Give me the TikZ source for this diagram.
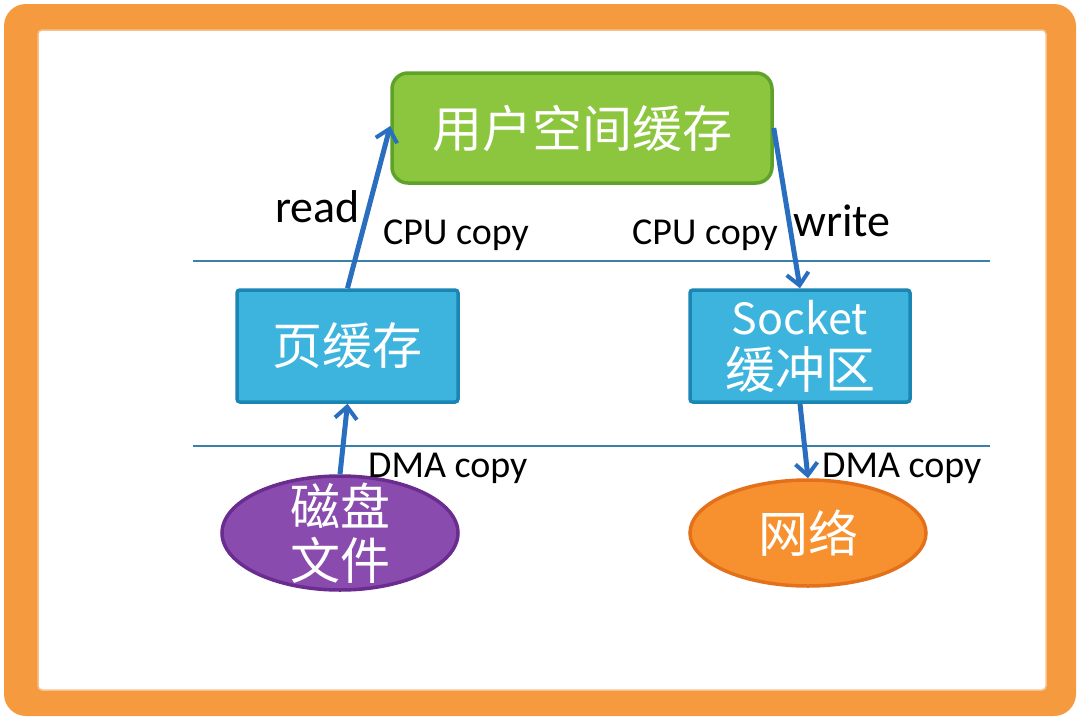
\documentclass[tikz,border=0pt]{standalone}
\usepackage{fontspec}
\setmainfont{Carlito}
\newfontfamily\cjk{Noto Sans CJK SC}
\usetikzlibrary{shapes.geometric,arrows.meta}
\definecolor{frameor}{HTML}{F59A3F}
\definecolor{gfill}{HTML}{8CC63E}
\definecolor{gline}{HTML}{5EA22A}
\definecolor{bfill}{HTML}{3DB4DD}
\definecolor{bline}{HTML}{1B86B4}
\definecolor{pfill}{HTML}{8A4BAE}
\definecolor{pline}{HTML}{6B2C8F}
\definecolor{ofill}{HTML}{F7912F}
\definecolor{oline}{HTML}{E3701A}
\definecolor{arr}{HTML}{2A6FBF}
\definecolor{sep}{HTML}{3A80A8}
\tikzset{
  box/.style={draw, line width=3.5pt, text=white, align=center, inner sep=0pt,
    font=\cjk\fontsize{50}{54}\selectfont},
  greenbox/.style={box, fill=gfill, draw=gline, rounded corners=16pt},
  bluebox/.style={box, fill=bfill, draw=bline, rounded corners=3pt},
  oval/.style={box, ellipse},
  flow/.style={draw=arr, line width=5pt, -{Straight Barb[length=12pt,width=22pt,line width=4pt]}},
  lbl/.style={anchor=base west, inner sep=0pt, text=black},
  big/.style={lbl, font=\fontsize{46}{50}\selectfont},
  small/.style={lbl, font=\fontsize{38}{42}\selectfont},
  sepline/.style={draw=sep, line width=2pt}
}
\begin{document}
\begin{tikzpicture}[x=1pt,y=-1pt]
\useasboundingbox (0,0) rectangle (1080,720);
\fill[white] (0,0) rectangle (1080,720);
% frame
\fill[frameor, rounded corners=22pt] (4,4) rectangle (1076,716);
\fill[white, rounded corners=4pt] (38,30) rectangle (1046,690);
\draw[frameor!60, line width=1.5pt, rounded corners=4pt] (38,30) rectangle (1046,690);
% separators
\draw[sepline] (193,261) -- (990,261);
\draw[sepline] (193,446) -- (990,446);
% nodes
\node[greenbox, minimum width=380pt, minimum height=110pt] (ucache) at (582,128) {用户空间缓存};
\node[bluebox, minimum width=221pt, minimum height=112pt] (page) at (347.5,346) {页缓存};
\node[bluebox, minimum width=220pt, minimum height=112pt] (socket) at (800,346) {{\fontsize{43}{50}\selectfont Socket}\\缓冲区};
\node[oval, fill=pfill, draw=pline, minimum width=236pt, minimum height=114pt, inner xsep=20pt, inner ysep=-14pt] (disk) at (340,533) {磁盘\\文件};
\node[oval, fill=ofill, draw=oline, minimum width=236pt, minimum height=106pt] (net) at (808,533) {网络};
% connectors
\draw[flow] (page.north) -- ([yshift=2pt]ucache.west);
\draw[flow] (ucache.east) -- (socket.north);
\draw[flow] (disk.north) -- (page.south);
\draw[flow] (socket.south) -- (net.north);
% labels
\node[big] (lread) at (275,222) {read};
\node[small] (lcpu1) at (383,244) {CPU copy};
\node[small] (lcpu2) at (632,244) {CPU copy};
\node[big] (lwrite) at (793,236) {write};
\node[small] (ldma1) at (368,477) {DMA copy};
\node[small] (ldma2) at (822,477) {DMA copy};
\end{tikzpicture}
\end{document}
